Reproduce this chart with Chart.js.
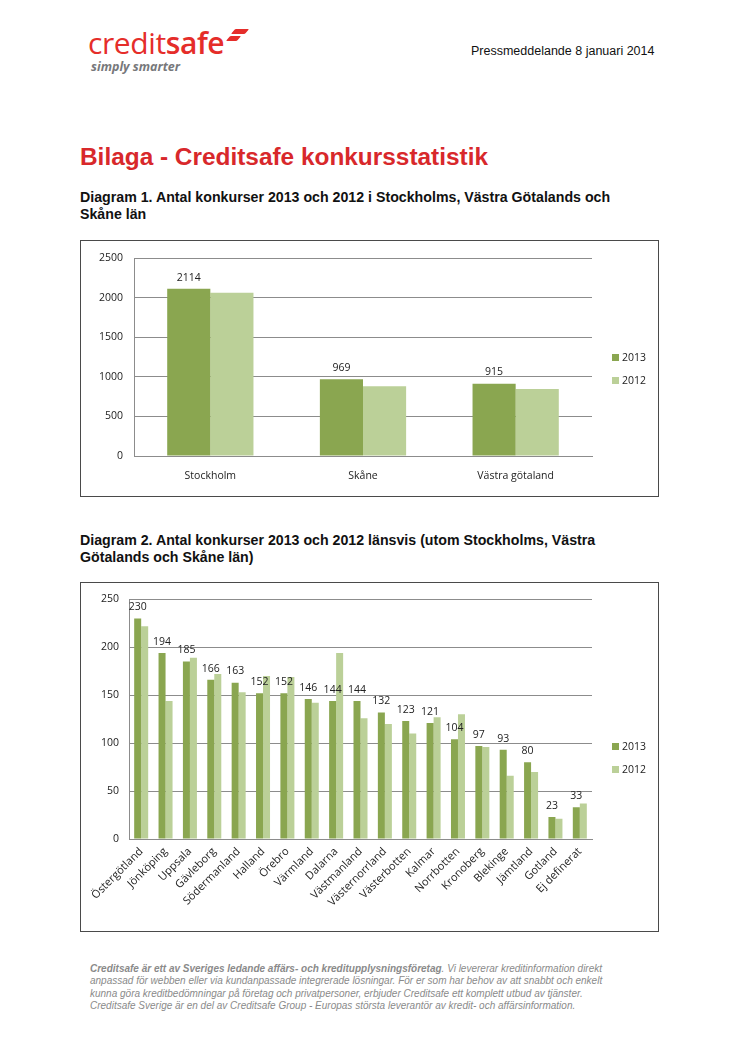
<!DOCTYPE html>
<html lang="sv">
<head>
<meta charset="utf-8">
<title>Bilaga - Creditsafe konkursstatistik</title>
<script src="https://cdn.jsdelivr.net/npm/chart.js@4.4.1/dist/chart.umd.min.js"></script>
<style>
  body { margin: 0; background: #fff; font-family: "Liberation Sans", Arial, sans-serif; }
  .page { position: relative; width: 746px; height: 1056px; overflow: hidden; }
  .abs { position: absolute; white-space: nowrap; }
  .logo { left: 88px; top: 28px; font-family: "Open Sans", sans-serif; font-size: 30px; color: #e52d2a; letter-spacing: -0.4px; line-height: 30px; }
  .logo b { font-weight: 600; }
  .swoosh { position: absolute; height: 5px; background: #e52d2a; transform: skewX(-40deg); border-radius: 1px; }
  .tagline { left: 91px; top: 58px; font-family: "Open Sans", sans-serif; font-size: 12.5px; font-weight: 700; font-style: italic; color: #77787b; }
  .press { left: 471px; top: 44px; font-size: 12.5px; color: #111; }
  .title { left: 80px; top: 143px; font-size: 24.4px; font-weight: bold; color: #d8282b; }
  .caption { left: 80px; font-size: 14.2px; font-weight: bold; color: #111; line-height: 16.5px; }
  .box { position: absolute; left: 80px; width: 577px; border: 1px solid #4a4a4a; background: #fff; }
  .box canvas { position: absolute; left: 0; top: 0; }
  .leg { position: absolute; font-family: "Open Sans", sans-serif; font-size: 10.5px; color: #222; line-height: 12px; }
  .leg i { display: inline-block; width: 7px; height: 7px; margin-right: 3px; vertical-align: 0px; }
  .footer { left: 90px; top: 963px; font-size: 10px; font-style: italic; color: #8a8a8a; line-height: 12.3px; }
</style>
</head>
<body>
<div class="page">
  <div class="abs logo">credit<b>safe</b></div>
  <div class="swoosh" style="left:233px; top:29px; width:14px;"></div>
  <div class="swoosh" style="left:228px; top:36px; width:11px;"></div>
  <div class="abs tagline">simply smarter</div>
  <div class="abs press">Pressmeddelande 8 januari 2014</div>

  <div class="abs title">Bilaga - Creditsafe konkursstatistik</div>

  <div class="abs caption" style="top:189px;">Diagram 1. Antal konkurser 2013 och 2012 i Stockholms, Västra Götalands och<br>Skåne län</div>
  <div class="box" style="top:240px; height:255px;">
    <canvas id="chart1" width="577" height="255"></canvas>
    <div class="leg" id="leg1" style="left:531px; top:110px;"></div>
  </div>

  <div class="abs caption" style="top:532px;">Diagram 2. Antal konkurser 2013 och 2012 länsvis (utom Stockholms, Västra<br>Götalands och Skåne län)</div>
  <div class="box" style="top:582px; height:348px;">
    <canvas id="chart2" width="577" height="348"></canvas>
    <div class="leg" id="leg2" style="left:531px; top:157px;"></div>
  </div>

  <div class="abs footer"><b>Creditsafe är ett av Sveriges ledande affärs- och kreditupplysningsföretag</b>. Vi levererar kreditinformation direkt<br>anpassad för webben eller via kundanpassade integrerade lösningar. För er som har behov av att snabbt och enkelt<br>kunna göra kreditbedömningar på företag och privatpersoner, erbjuder Creditsafe ett komplett utbud av tjänster.<br>Creditsafe Sverige är en del av Creditsafe Group - Europas största leverantör av kredit- och affärsinformation.</div>
</div>

<script>
// Serier
var seriesNames = ['2013', '2012'];
var seriesColors = ['#8aa650', '#bbd098'];

// Diagram 1
var lan1 = ['Stockholm', 'Skåne', 'Västra götaland'];
var konk2013_1 = [2114, 969, 915];
var konk2012_1 = [2065, 883, 846];
var ticks1 = [0, 500, 1000, 1500, 2000, 2500];

// Diagram 2
var lan2 = ['Östergötland', 'Jönköping', 'Uppsala', 'Gävleborg', 'Södermanland', 'Halland', 'Örebro',
  'Värmland', 'Dalarna', 'Västmanland', 'Västernorrland', 'Västerbotten', 'Kalmar', 'Norrbotten',
  'Kronoberg', 'Blekinge', 'Jämtland', 'Gotland', 'Ej definerat'];
var konk2013_2 = [230, 194, 185, 166, 163, 152, 152, 146, 144, 144, 132, 123, 121, 104, 97, 93, 80, 23, 33];
var konk2012_2 = [222, 144, 189, 172, 153, 170, 169, 142, 194, 126, 120, 110, 127, 130, 96, 66, 70, 21, 37];
var ticks2 = [0, 50, 100, 150, 200, 250];

var fontFamily = '"Open Sans", sans-serif';
var gridColor = '#8c8c8c';

// Skriv värdet ovanför staplarna för 2013
var valueLabels = {
    id: 'valueLabels',
    afterDatasetsDraw: function(chart) {
        var ctx = chart.ctx;
        var meta = chart.getDatasetMeta(0);
        ctx.save();
        ctx.font = '10.5px ' + fontFamily;
        ctx.fillStyle = '#222';
        ctx.textAlign = 'center';
        ctx.textBaseline = 'bottom';
        meta.data.forEach(function(bar, i) {
            ctx.fillText(chart.data.datasets[0].data[i], bar.x, bar.y - 6);
        });
        ctx.restore();
    }
};

function makeChart(id, labels, d2013, d2012, tickValues, opts) {
    var ctx = document.getElementById(id).getContext('2d');
    return new Chart(ctx, {
        type: 'bar',
        data: {
            labels: labels,
            datasets: [
                { label: seriesNames[0], data: d2013, backgroundColor: seriesColors[0] },
                { label: seriesNames[1], data: d2012, backgroundColor: seriesColors[1] }
            ]
        },
        options: {
            responsive: false,
            animation: false,
            categoryPercentage: opts.catPct,
            barPercentage: 1.0,
            layout: { padding: { left: 0, right: 66, top: opts.top, bottom: 0 } },
            plugins: { legend: { display: false }, tooltip: { enabled: false } },
            scales: {
                x: {
                    grid: { display: false, drawTicks: false },
                    border: { display: true, color: gridColor, width: 1 },
                    ticks: {
                        color: '#222',
                        font: { family: fontFamily, size: opts.xFont },
                        padding: opts.xPad,
                        autoSkip: false,
                        maxRotation: opts.rot,
                        minRotation: opts.rot
                    },
                    afterFit: function(scale) { scale.height = opts.xHeight; }
                },
                y: {
                    min: 0,
                    max: tickValues[tickValues.length - 1],
                    afterBuildTicks: function(scale) {
                        scale.ticks = tickValues.map(function(v) { return { value: v }; });
                    },
                    grid: { color: gridColor, drawTicks: false },
                    border: { display: true, color: gridColor, width: 1 },
                    ticks: {
                        color: '#222',
                        font: { family: fontFamily, size: 10.5 },
                        padding: opts.yPad,
                        callback: function(value) { return String(value); }
                    },
                    afterFit: function(scale) { scale.width = opts.yWidth; }
                }
            }
        },
        plugins: [valueLabels]
    });
}

makeChart('chart1', lan1, konk2013_1, konk2012_1, ticks1,
    { catPct: 0.565, top: 14, xHeight: 40, xPad: 14, xFont: 10.5, rot: 0, yWidth: 53, yPad: 11 });
makeChart('chart2', lan2, konk2013_2, konk2012_2, ticks2,
    { catPct: 0.575, top: 13, xHeight: 92, xPad: 6, xFont: 11, rot: 45, yWidth: 48, yPad: 10 });

// Förklaring
function buildLegend(id) {
    var el = document.getElementById(id);
    seriesNames.forEach(function(name, i) {
        var row = document.createElement('div');
        row.style.marginBottom = '11px';
        row.innerHTML = '<i style="background:' + seriesColors[i] + '"></i>' + name;
        el.appendChild(row);
    });
}
buildLegend('leg1');
buildLegend('leg2');
</script>
</body>
</html>
